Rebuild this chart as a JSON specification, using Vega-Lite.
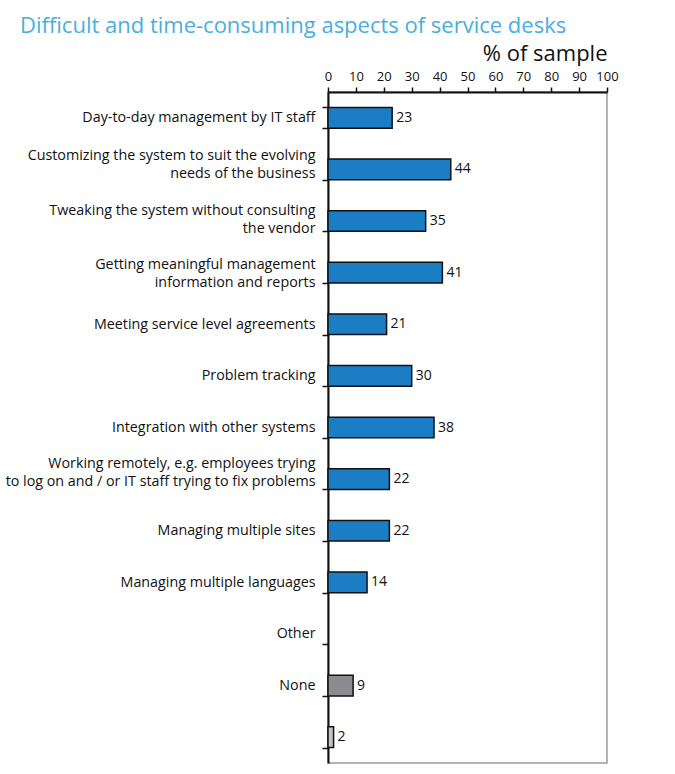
{
  "$schema": "https://vega.github.io/schema/vega-lite/v6.json",
  "width": 279,
  "height": 671,
  "autosize": "none",
  "padding": {"left": 328, "top": 92, "right": 68, "bottom": 11},
  "background": "white",
  "title": {
    "text": "Difficult and time-consuming aspects of service desks",
    "anchor": "start",
    "frame": "group",
    "dx": -308,
    "offset": 4,
    "font": "Open Sans",
    "fontSize": 22,
    "fontWeight": "normal",
    "color": "#4aaee0"
  },
  "config": {
    "view": {"stroke": "#9a9a9e", "strokeWidth": 1.5},
    "font": "Open Sans"
  },
  "data": {
    "values": [
      {"order": 1, "item": "Day-to-day management by IT staff", "pct": 23, "kind": "blue"},
      {"order": 2, "item": "Customizing the system to suit the evolving|needs of the business", "pct": 44, "kind": "blue"},
      {"order": 3, "item": "Tweaking the system without consulting|the vendor", "pct": 35, "kind": "blue"},
      {"order": 4, "item": "Getting meaningful management|information and reports", "pct": 41, "kind": "blue"},
      {"order": 5, "item": "Meeting service level agreements", "pct": 21, "kind": "blue"},
      {"order": 6, "item": "Problem tracking", "pct": 30, "kind": "blue"},
      {"order": 7, "item": "Integration with other systems", "pct": 38, "kind": "blue"},
      {"order": 8, "item": "Working remotely, e.g. employees trying|to log on and / or IT staff trying to fix problems", "pct": 22, "kind": "blue"},
      {"order": 9, "item": "Managing multiple sites", "pct": 22, "kind": "blue"},
      {"order": 10, "item": "Managing multiple languages", "pct": 14, "kind": "blue"},
      {"order": 11, "item": "Other", "pct": null, "kind": "blue"},
      {"order": 12, "item": "None", "pct": 9, "kind": "grey"},
      {"order": 13, "item": " ", "pct": 2, "kind": "light"}
    ]
  },
  "encoding": {
    "y": {
      "field": "item",
      "type": "nominal",
      "sort": {"field": "order"},
      "scale": {
        "domain": [
          "Day-to-day management by IT staff",
          "Customizing the system to suit the evolving|needs of the business",
          "Tweaking the system without consulting|the vendor",
          "Getting meaningful management|information and reports",
          "Meeting service level agreements",
          "Problem tracking",
          "Integration with other systems",
          "Working remotely, e.g. employees trying|to log on and / or IT staff trying to fix problems",
          "Managing multiple sites",
          "Managing multiple languages",
          "Other",
          "None",
          " "
        ],
        "paddingInner": 0.6,
        "paddingOuter": 0.3
      },
      "axis": {
        "title": null,
        "labelExpr": "isValid(datum.value) ? split(datum.value, '|') : ''",
        "labelFont": "Open Sans",
        "labelFontSize": 14.3,
        "labelColor": "#111",
        "labelPadding": 7,
        "labelLimit": 400,
        "labelLineHeight": 18,
        "labelOffset": {
          "condition": [
            {"test": "isValid(datum.value) && indexof(datum.value, 'Customizing') == 0", "value": -14},
            {"test": "isValid(datum.value) && indexof(datum.value, 'Tweaking') == 0", "value": -11},
            {"test": "isValid(datum.value) && indexof(datum.value, 'Getting') == 0", "value": -8},
            {"test": "isValid(datum.value) && indexof(datum.value, 'Working') == 0", "value": -16}
          ],
          "value": 0
        },
        "tickBand": "extent",
        "tickSize": 6,
        "tickColor": "#111",
        "tickWidth": 1.5,
        "domainColor": "#111",
        "domainWidth": 2
      }
    },
    "x": {
      "field": "pct",
      "type": "quantitative",
      "scale": {"domain": [0, 100], "nice": false},
      "axis": {
        "orient": "top",
        "title": "% of sample",
        "titleFont": "Open Sans",
        "titleFontSize": 22,
        "titleFontWeight": "normal",
        "titleColor": "#111",
        "titleAnchor": "end",
        "titleAlign": "right",
        "titlePadding": 5,
        "values": [0, 10, 20, 30, 40, 50, 60, 70, 80, 90, 100],
        "labelFont": "Open Sans",
        "labelFontSize": 13,
        "labelColor": "#111",
        "labelPadding": 4,
        "labelFlush": false,
        "tickSize": 5,
        "tickColor": "#111",
        "tickWidth": 1.5,
        "domainColor": "#111",
        "domainWidth": 2,
        "grid": false
      }
    }
  },
  "layer": [
    {
      "mark": {"type": "bar", "stroke": "#111", "strokeWidth": 1.5},
      "encoding": {
        "color": {
          "field": "kind",
          "type": "nominal",
          "scale": {"domain": ["blue", "grey", "light"], "range": ["#1b7dc3", "#8b8b90", "#c2c2c6"]},
          "legend": null
        }
      }
    },
    {
      "mark": {"type": "text", "align": "left", "dx": 4, "font": "Open Sans", "fontSize": 14, "color": "#111"},
      "encoding": {"text": {"field": "pct", "type": "quantitative"}}
    }
  ]
}
